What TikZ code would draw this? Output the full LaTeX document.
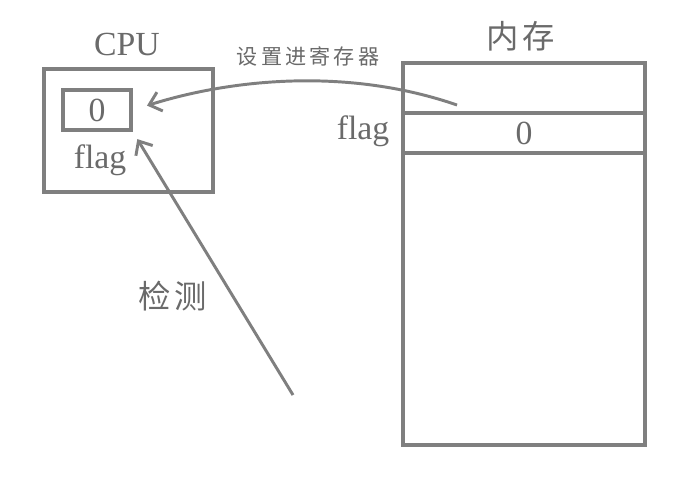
\documentclass[tikz,border=0pt]{standalone}
\usepackage{fontspec}
\setmainfont{Liberation Serif}
\newfontfamily\cjk{Noto Sans CJK SC}
\usepackage{xcolor}
\usetikzlibrary{arrows.meta, positioning}
\definecolor{lineGray}{HTML}{7f7f7f}
\definecolor{textGray}{HTML}{6a6a6a}

\begin{document}
\begin{tikzpicture}[x=0.025cm, y=-0.025cm,
    every node/.style={text=textGray},
    box/.style={
        rectangle, draw=lineGray, line width=2.7pt,
        inner sep=0pt, fill=none,
    },
    latin/.style={font=\fontsize{24}{26}\selectfont},
    bigcjk/.style={font=\cjk\fontsize{23}{25}\selectfont\addfontfeature{LetterSpace=12}},
    smallcjk/.style={font=\cjk\fontsize{15}{17}\selectfont\addfontfeature{LetterSpace=15}},
    link/.style={
        draw=lineGray, line width=2.1pt,
        -{Straight Barb[length=8pt, width=14pt, line width=2.1pt]},
    },
]
\useasboundingbox (0,0) rectangle (688,481);

% ── CPU ───────────────────────────────────────────────────────────────
\node[box, minimum width=4.225cm, minimum height=3.075cm] (cpu) at (128.5,130.5) {};
\node[latin] (cpulabel) at (127,44) {CPU};
\node[box, minimum width=1.7cm, minimum height=1.0cm, latin] (flagreg) at (97,110) {0};
\node[latin] (cpuflag) at (100,160) {flag};

% ── Memory ────────────────────────────────────────────────────────────
\node[box, minimum width=6.05cm, minimum height=9.55cm] (mem) at (524,254) {};
\node[bigcjk] (memlabel) at (521,36) {内存};
\node[box, minimum width=6.05cm, minimum height=1.0cm, latin] (memflag) at (524,133) {0};
\node[latin] (memflaglabel) at (363,131) {flag};

% ── Connectors ────────────────────────────────────────────────────────
\coordinate (loadsrc) at (457,105);
\coordinate (checksrc) at (293,395);
\draw[link, shorten >=10.5pt] (loadsrc) .. controls (350,68) and (235,78) .. (flagreg.east);
\node[smallcjk] (loadlabel) at (308,56) {设置进寄存器};

\draw[link, shorten >=6pt] (checksrc) -- (flagreg.south east);
\node[bigcjk] (checklabel) at (173,296) {检测};

\end{tikzpicture}
\end{document}
